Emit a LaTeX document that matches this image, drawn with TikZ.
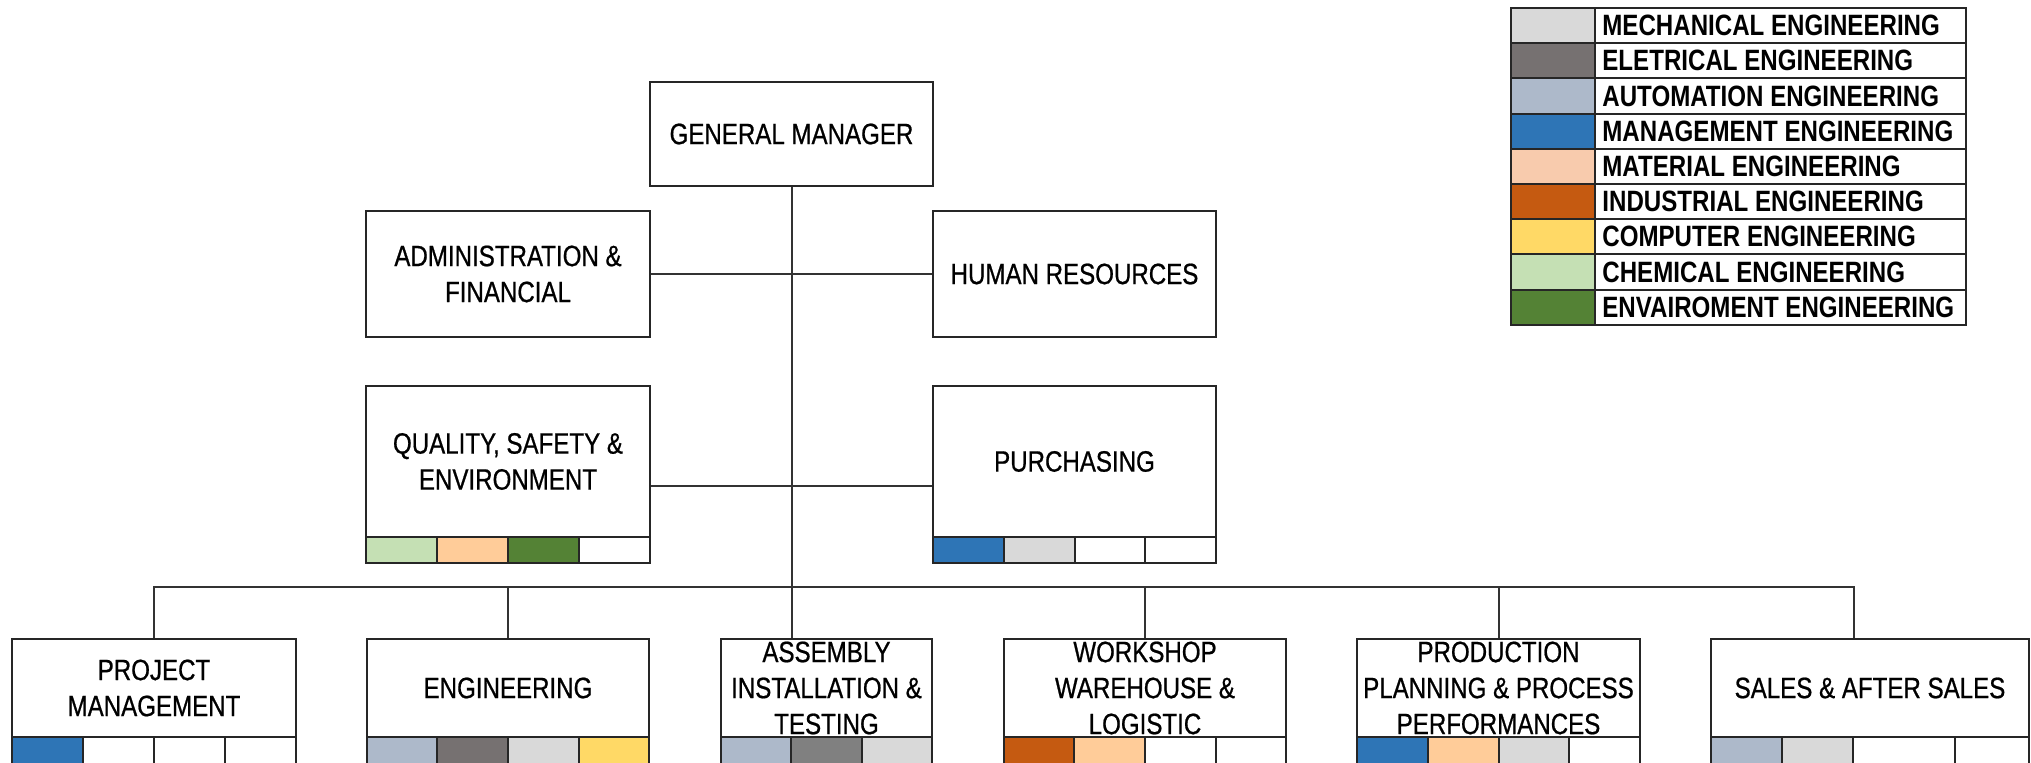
\documentclass[tikz,border=0pt]{standalone}
\usepackage{fontspec}
\newfontfamily\narrowfont[FakeStretch=0.82]{Liberation Sans}
\newfontfamily\narrowboxfont[FakeStretch=0.82,FakeBold=0.7]{Liberation Sans}
% discipline colours
\definecolor{cMech}{HTML}{D9D9D9}
\definecolor{cElec}{HTML}{767171}
\definecolor{cElecB}{HTML}{808080}
\definecolor{cAuto}{HTML}{ADB9CA}
\definecolor{cMgmt}{HTML}{2E75B6}
\definecolor{cMatl}{HTML}{F8CBAD}
\definecolor{cMatlB}{HTML}{FFCC99}
\definecolor{cIndu}{HTML}{C55A11}
\definecolor{cComp}{HTML}{FFD966}
\definecolor{cChem}{HTML}{C5E0B4}
\definecolor{cEnvi}{HTML}{548235}
\begin{document}
\begin{tikzpicture}[x=0.5pt,y=-0.5pt,
  orgbox/.style={draw=black!85, line width=1pt, fill=white, inner sep=0pt,
    align=center, font=\narrowboxfont\fontsize{14.7}{18}\selectfont},
  wire/.style={draw=black!80, line width=1pt},
  cell/.style={draw=black!85, line width=1pt},
  legtext/.style={anchor=west, inner sep=0pt,
    font=\narrowfont\bfseries\fontsize{14.7}{18}\selectfont}]
\useasboundingbox (0,0) rectangle (2031,763);
\clip (0,0) rectangle (2031,763);

% management level
\node[orgbox, minimum width=141.5pt, minimum height=52pt] (gm) at (791.5,134) {GENERAL MANAGER};
\node[orgbox, minimum width=142pt, minimum height=63pt] (adm) at (508,274) {ADMINISTRATION \&\\FINANCIAL};
\node[orgbox, minimum width=141.5pt, minimum height=63pt] (hr) at (1074.5,274) {HUMAN RESOURCES};
\node[orgbox, minimum width=142pt, minimum height=75.5pt] (qse) at (508,461.5) {QUALITY, SAFETY \&\\ENVIRONMENT};
\node[orgbox, minimum width=141.5pt, minimum height=75.5pt] (pur) at (1074.5,461.5) {PURCHASING};

% departments
\node[orgbox, minimum width=142pt, minimum height=49pt] (pm) at (154,688) {PROJECT\\MANAGEMENT};
\node[orgbox, minimum width=141pt, minimum height=49pt] (eng) at (508,688) {ENGINEERING};
\node[orgbox, minimum width=105.5pt, minimum height=49pt] (asm) at (826.5,688) {ASSEMBLY\\INSTALLATION \&\\TESTING};
\node[orgbox, minimum width=141pt, minimum height=49pt] (ws) at (1145,688) {WORKSHOP\\WAREHOUSE \&\\LOGISTIC};
\node[orgbox, minimum width=141.5pt, minimum height=49pt] (prod) at (1498.5,688) {PRODUCTION\\PLANNING \& PROCESS\\PERFORMANCES};
\node[orgbox, minimum width=159pt, minimum height=49pt] (sales) at (1870,688) {SALES \& AFTER SALES};

% discipline strips
\foreach \xa/\xb/\c in {366/437/cChem, 437/508/cMatlB, 508/579/cEnvi, 579/650/white}
  \draw[cell, fill=\c] (\xa,537) rectangle (\xb,563);
\foreach \xa/\xb/\c in {933/1004/cMgmt, 1004/1075/cMech, 1075/1145/white, 1145/1216/white}
  \draw[cell, fill=\c] (\xa,537) rectangle (\xb,563);
\foreach \xa/\xb/\c in {12/83/cMgmt, 83/154/white, 154/225/white, 225/296/white,
    367/437/cAuto, 437/508/cElec, 508/579/cMech, 579/649/cComp,
    721/791/cAuto, 791/862/cElecB, 862/932/cMech,
    1004/1074/cIndu, 1074/1145/cMatlB, 1145/1216/white, 1216/1286/white,
    1357/1428/cMgmt, 1428/1499/cMatlB, 1499/1569/cMech, 1569/1640/white,
    1711/1782/cAuto, 1782/1853/cMech, 1853/1955/white, 1955/2029/white}
  \draw[cell, fill=\c] (\xa,737) rectangle (\xb,770);

% reporting lines
\coordinate (busR) at (1854,587);
\draw[wire] (pm.north) |- (busR) -- (busR |- sales.north);
\foreach \n in {eng, ws, prod}
  \draw[wire] (\n.north) -- (\n.north |- busR);
\draw[wire] (gm.south) -- (gm.south |- asm.north);
\draw[wire] (adm.east) -- (hr.west);
\draw[wire] ([yshift=-12.25pt]qse.east) -- ([yshift=-12.25pt]pur.west);

% legend
\foreach \c/\t [count=\i] in {cMech/MECHANICAL ENGINEERING, cElec/ELETRICAL ENGINEERING,
    cAuto/AUTOMATION ENGINEERING, cMgmt/MANAGEMENT ENGINEERING,
    cMatl/MATERIAL ENGINEERING, cIndu/INDUSTRIAL ENGINEERING,
    cComp/COMPUTER ENGINEERING, cChem/CHEMICAL ENGINEERING,
    cEnvi/ENVAIROMENT ENGINEERING} {
  \draw[cell, fill=\c] (1511,{8+35.2*(\i-1)}) rectangle (1595,{8+35.2*\i});
  \draw[cell, fill=white] (1595,{8+35.2*(\i-1)}) rectangle (1966,{8+35.2*\i});
  \node[legtext] (leg\i) at (1602,{8+35.2*(\i-0.5)}) {\t};
}
\draw[line width=1.4pt, draw=black!85] (1511,8) rectangle (1966,325);
\end{tikzpicture}
\end{document}
